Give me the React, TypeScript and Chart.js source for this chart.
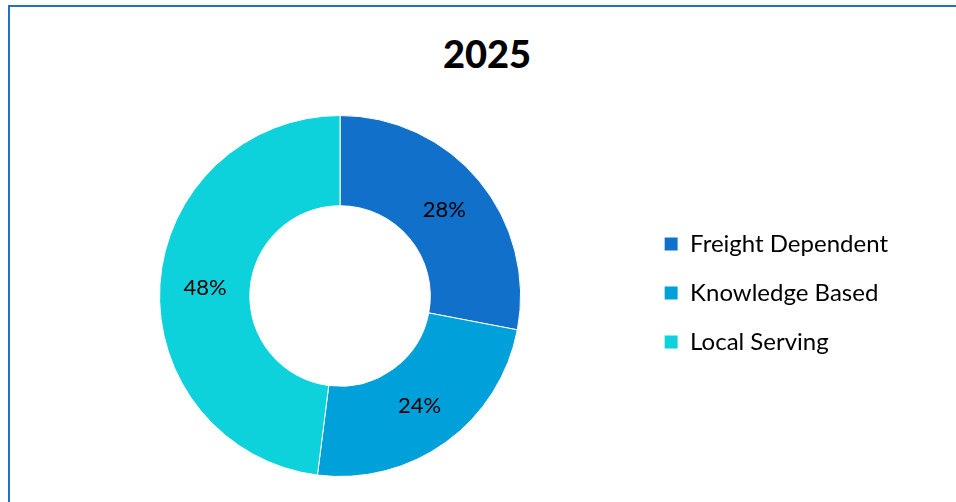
import React, { useEffect, useRef } from "react";
import { Chart, registerables } from "chart.js";

Chart.register(...registerables);

const categories = ["Freight Dependent", "Knowledge Based", "Local Serving"];
const shares = [28, 24, 48];
const colors = ["#1170C9", "#00A1DA", "#0DD2DB"];
const titleText = "2025";

const labelPlugin = {
  id: "sliceLabels",
  afterDatasetsDraw(chart: any) {
    const ctx = chart.ctx;
    const meta = chart.getDatasetMeta(0);
    ctx.save();
    ctx.font = "22px Lato";
    ctx.fillStyle = "#000";
    ctx.textAlign = "center";
    ctx.textBaseline = "middle";
    meta.data.forEach((arc: any, i: number) => {
      const p = arc.tooltipPosition();
      ctx.fillText(shares[i] + "%", p.x, p.y);
    });
    ctx.restore();
  },
};

export default function App() {
  const ref = useRef<HTMLCanvasElement>(null);
  useEffect(() => {
    const chart = new Chart(ref.current!, {
      type: "doughnut",
      data: {
        labels: categories,
        datasets: [
          {
            data: shares,
            backgroundColor: colors,
            borderColor: "#ffffff",
            borderWidth: 1,
            hoverOffset: 0,
          },
        ],
      },
      options: {
        animation: false,
        responsive: false,
        cutout: "50%",
        layout: { padding: { left: 31, right: 58, top: 0, bottom: 0 } },
        plugins: {
          subtitle: {
            display: true,
            text: "",
            position: "top",
            fullSize: false,
            font: { size: 5 },
            padding: 0,
          },
          legend: {
            position: "right",
            labels: {
              color: "#000",
              font: { family: "Lato", size: 24 },
              boxWidth: 14,
              boxHeight: 14,
              padding: 25,
            },
          },
          tooltip: { enabled: false },
        },
      },
      plugins: [labelPlugin],
    });
    return () => chart.destroy();
  }, []);
  return (
    <div
      style={{
        position: "absolute",
        left: 8,
        top: 5,
        width: 960,
        height: 510,
        border: "2px solid #2570C4",
        background: "#fff",
      }}
    >
      <div
        style={{
          position: "absolute",
          left: 0,
          top: 27,
          width: 954,
          textAlign: "center",
          font: "900 38px Lato",
          lineHeight: "38px",
          color: "#000",
        }}
      >
        {titleText}
      </div>
      <canvas
        ref={ref}
        width={946}
        height={368}
        style={{ position: "absolute", left: 0, top: 102, display: "block" }}
      />
    </div>
  );
}
